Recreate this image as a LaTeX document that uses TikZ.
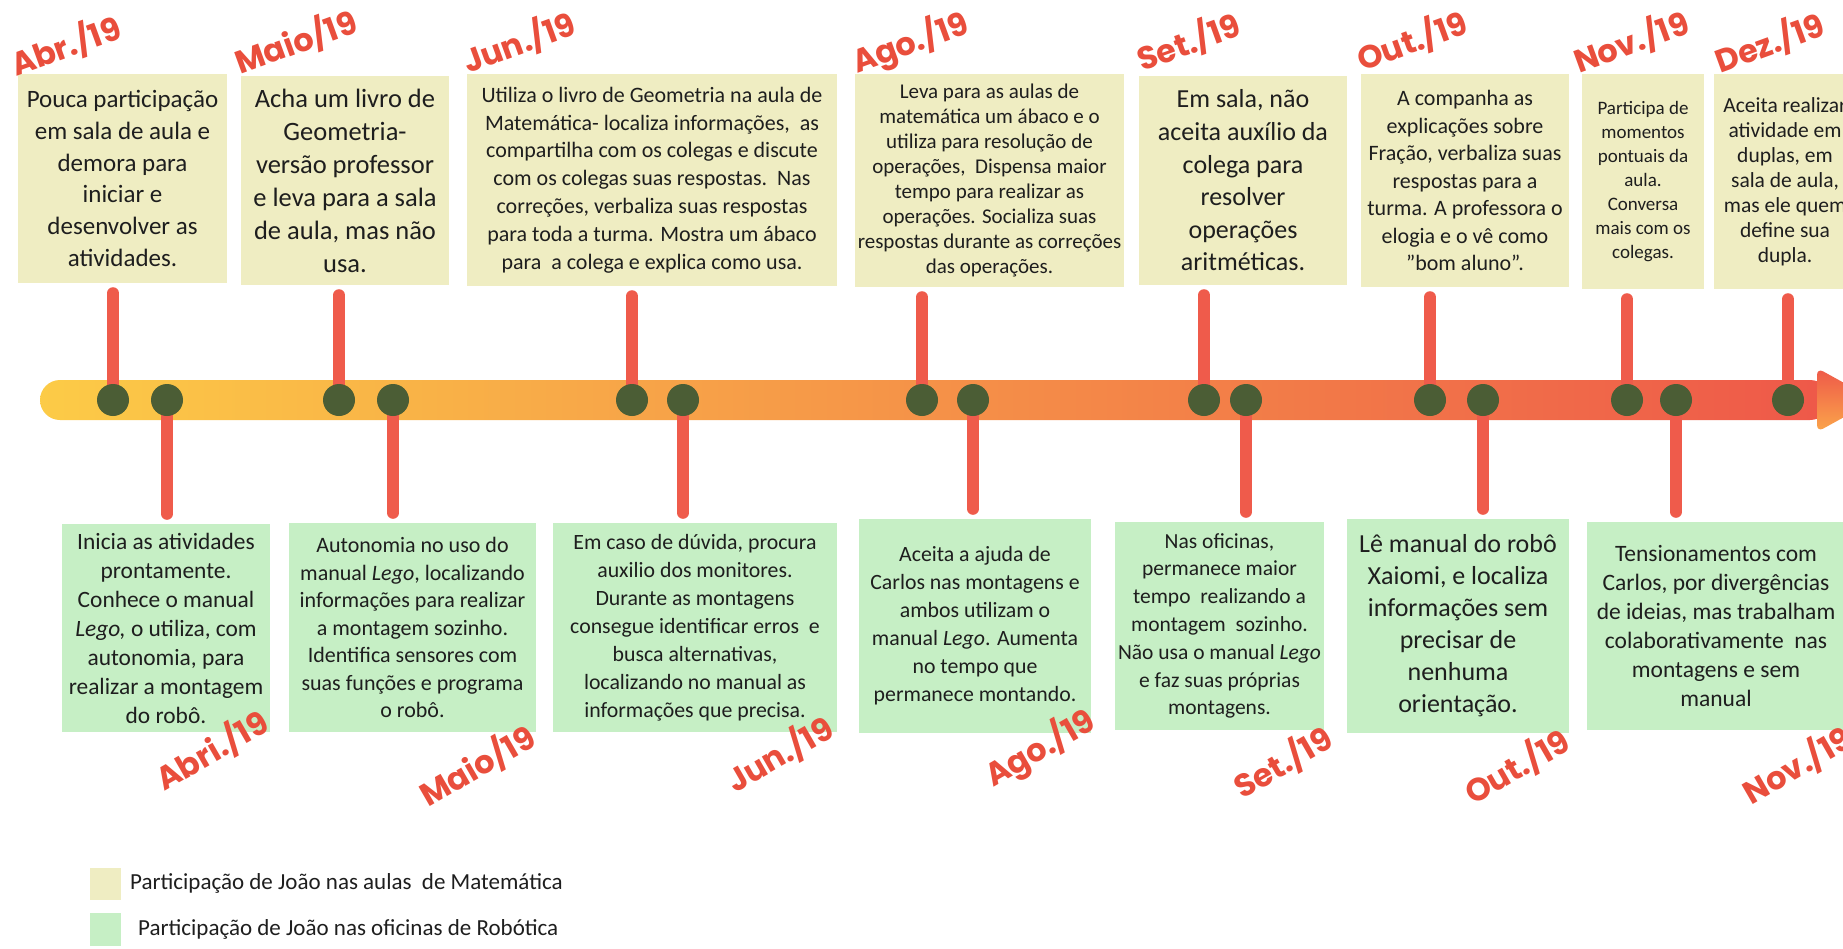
\documentclass[tikz,border=0pt]{standalone}
\usepackage{fontspec}
\setmainfont{Carlito}
\newfontfamily\lblfont{Poppins}
\pgfdeclarelayer{bg}
\pgfsetlayers{bg,main}
\definecolor{lblred}{HTML}{E94E3C}
\definecolor{stemred}{HTML}{EF5B4B}
\definecolor{boxyellow}{HTML}{EFEDC2}
\definecolor{boxgreen}{HTML}{C6EFC5}
\definecolor{dotgreen}{HTML}{4B5D35}
\definecolor{txt}{HTML}{1E1E1E}
\definecolor{baryellow}{HTML}{FCCB47}
\definecolor{barorange}{HTML}{F6974A}
\definecolor{barred}{HTML}{EE5849}
\definecolor{headlight}{HTML}{FBA64A}
\newcommand{\setfs}[2]{\fontsize{#1}{#2}\selectfont}
\begin{document}
\begin{tikzpicture}[x=1pt,y=-1pt,
  tbox/.style={fill=boxyellow, inner sep=0pt, align=center, text=txt},
  bbox/.style={fill=boxgreen, inner sep=0pt, align=center, text=txt},
  dotnode/.style={circle, fill=dotgreen, minimum size=32pt, inner sep=0pt},
  stem/.style={draw=stemred, line width=12pt, line cap=round, shorten >=10pt},
  toplbl/.style={anchor=base west, rotate=20, text=lblred, inner sep=0pt, font=\lblfont\bfseries\setfs{32}{32}},
  botlbl/.style={anchor=base west, rotate=30, text=lblred, inner sep=0pt, font=\lblfont\bfseries\setfs{32}{32}},
  legsq/.style={inner sep=0pt, minimum width=31pt, minimum height=32pt},
  legtxt/.style={anchor=west, inner sep=0pt, text=txt, font=\setfs{23}{27}},
]
\useasboundingbox (0,0) rectangle (1843,948);
\clip (0,0) rectangle (1843,948);

% top boxes
\node[tbox, minimum width=209pt, minimum height=209pt, font=\setfs{25}{31.7}] (t1) at (122.5,178.5)
 {Pouca participação\\ em sala de aula e\\ demora para\\ iniciar e\\ desenvolver as\\ atividades.};
\node[tbox, minimum width=208pt, minimum height=209pt, font=\setfs{26.5}{33}] (t2) at (345,180.5)
 {Acha um livro de\\ Geometria-\\ versão professor\\ e leva para a sala\\ de aula, mas não\\ usa.};
\node[tbox, minimum width=370pt, minimum height=212pt, font=\setfs{22}{27.8}] (t3) at (652,180)
 {Utiliza o livro de Geometria na aula de\\ Matemática- localiza informações,\ \ as\\ compartilha com os colegas e discute\\ com os colegas suas respostas.\ \ Nas\\ correções, verbaliza suas respostas\\ para toda a turma. Mostra um ábaco\\ para\ \ a colega e explica como usa.};
\node[tbox, minimum width=269pt, minimum height=213pt, font=\setfs{21}{25}] (t4) at (989.5,180.5)
 {Leva para as aulas de\\ matemática um ábaco e o\\ utiliza para resolução de\\ operações,\ \ Dispensa maior\\ tempo para realizar as\\ operações. Socializa suas\\ respostas durante as correções\\ das operações.};
\node[tbox, minimum width=208pt, minimum height=209pt, font=\setfs{26}{32.6}] (t5) at (1243,180.5)
 {Em sala, não\\ aceita auxílio da\\ colega para\\ resolver\\ operações\\ aritméticas.};
\node[tbox, minimum width=208pt, minimum height=213pt, font=\setfs{22}{27.5}] (t6) at (1465,180.5)
 {A companha as\\ explicações sobre\\ Fração, verbaliza suas\\ respostas para a\\ turma. A professora o\\ elogia e o vê como\\ "bom aluno".};
\node[tbox, minimum width=122pt, minimum height=215pt, font=\setfs{19}{24}] (t7) at (1643,181.5)
 {Participa de\\ momentos\\ pontuais da\\ aula.\\ Conversa\\ mais com os\\ colegas.};
\node[tbox, minimum width=142pt, minimum height=215pt, font=\setfs{21.5}{25}] (t8) at (1785,181.5)
 {Aceita realizar\\ atividade em\\ duplas, em\\ sala de aula,\\ mas ele quem\\ define sua\\ dupla.};

% bottom boxes
\node[bbox, minimum width=208pt, minimum height=208pt, font=\setfs{23.4}{29}] (b1) at (166,628)
 {Inicia as atividades\\ prontamente.\\ Conhece o manual\\ \textit{Lego,} o utiliza, com\\ autonomia, para\\ realizar a montagem\\ do robô.};
\node[bbox, minimum width=247pt, minimum height=209pt, font=\setfs{22}{27.5}] (b2) at (412.5,627.5)
 {Autonomia no uso do\\ manual \textit{Lego}, localizando\\ informações para realizar\\ a montagem sozinho.\\ Identifica sensores com\\ suas funções e programa\\ o robô.};
\node[bbox, minimum width=284pt, minimum height=209pt, font=\setfs{21.8}{28}] (b3) at (695,627.5)
 {Em caso de dúvida, procura\\ auxilio dos monitores.\\ Durante as montagens\\ consegue identificar erros\ \ e\\ busca alternativas,\\ localizando no manual as\\ informações que precisa.};
\node[bbox, minimum width=232pt, minimum height=214pt, font=\setfs{21.8}{28}] (b4) at (975,626)
 {Aceita a ajuda de\\ Carlos nas montagens e\\ ambos utilizam o\\ manual \textit{Lego}. Aumenta\\ no tempo que\\ permanece montando.};
\node[bbox, minimum width=209pt, minimum height=208pt, font=\setfs{21.5}{27.8}] (b5) at (1219.5,626)
 {Nas oficinas,\\ permanece maior\\ tempo\ \ realizando a\\ montagem\ \ sozinho.\\ Não usa o manual \textit{Lego}\\ e faz suas próprias\\ montagens.};
\node[bbox, minimum width=222pt, minimum height=214pt, font=\setfs{26}{32}] (b6) at (1458,626)
 {Lê manual do robô\\ Xaiomi, e localiza\\ informações sem\\ precisar de\\ nenhuma\\ orientação.};
\node[bbox, minimum width=258pt, minimum height=208pt, font=\setfs{23.5}{29}] (b7) at (1716,626)
 {Tensionamentos com\\ Carlos, por divergências\\ de ideias, mas trabalham\\ colaborativamente\ \ nas\\ montagens e sem\\ manual};

% dots
\foreach \n/\x in {1/113,2/167,3/339,4/393,5/632,6/683,7/922,8/973,9/1204,10/1246,11/1430,12/1483,13/1627,14/1676,15/1788}
  \node[dotnode] (d\n) at (\x,400) {};

\begin{pgfonlayer}{bg}
  % bar
  \shade[left color=baryellow, middle color=barorange, right color=barred, rounded corners=20pt]
    (40,380) rectangle (1830,420);
  \shade[top color=barred, bottom color=headlight, rounded corners=7pt]
    (1817,368) -- (1875,400) -- (1817,432) -- cycle;
  % stems up
  \draw[stem] (d1.center) -- (d1 |- t1.south);
  \draw[stem] (d3.center) -- (d3 |- t2.south);
  \draw[stem] (d5.center) -- (d5 |- t3.south);
  \draw[stem] (d7.center) -- (d7 |- t4.south);
  \draw[stem] (d9.center) -- (d9 |- t5.south);
  \draw[stem] (d11.center) -- (d11 |- t6.south);
  \draw[stem] (d13.center) -- (d13 |- t7.south);
  \draw[stem] (d15.center) -- (d15 |- t8.south);
  % stems down
  \draw[stem] (d2.center) -- (d2 |- b1.north);
  \draw[stem] (d4.center) -- (d4 |- b2.north);
  \draw[stem] (d6.center) -- (d6 |- b3.north);
  \draw[stem] (d8.center) -- (d8 |- b4.north);
  \draw[stem] (d10.center) -- (d10 |- b5.north);
  \draw[stem] (d12.center) -- (d12 |- b6.north);
  \draw[stem] (d14.center) -- (d14 |- b7.north);
\end{pgfonlayer}

% top month labels
\node[toplbl] (m1) at (16,77) {Abr./19};
\node[toplbl] (m2) at (240,75) {Maio/19};
\node[toplbl] (m3) at (468,74) {Jun./19};
\node[toplbl] (m4) at (857,74) {Ago./19};
\node[toplbl] (m5) at (1142,72) {Set./19};
\node[toplbl] (m6) at (1362,72) {Out./19};
\node[toplbl] (m7) at (1579,74) {Nov./19};
\node[toplbl] (m8) at (1720,74) {Dez./19};

% bottom month labels
\node[botlbl] (n1) at (164,792) {Abri./19};
\node[botlbl] (n2) at (428,808) {Maio/19};
\node[botlbl] (n3) at (735,794) {Jun./19};
\node[botlbl] (n4) at (993,788) {Ago./19};
\node[botlbl] (n5) at (1242,800) {Set./19};
\node[botlbl] (n6) at (1473,806) {Out./19};
\node[botlbl] (n7) at (1751,806) {Nov./19};

% legend
\node[legsq, fill=boxyellow] (l1) at (105.5,884) {};
\node[legsq, fill=boxgreen, minimum height=33pt] (l2) at (105.5,929.5) {};
\node[legtxt] (lt1) at (130,883) {Participação de João nas aulas\ \ de Matemática};
\node[legtxt] (lt2) at (138,929) {Participação de João nas oficinas de Robótica};
\end{tikzpicture}
\end{document}
